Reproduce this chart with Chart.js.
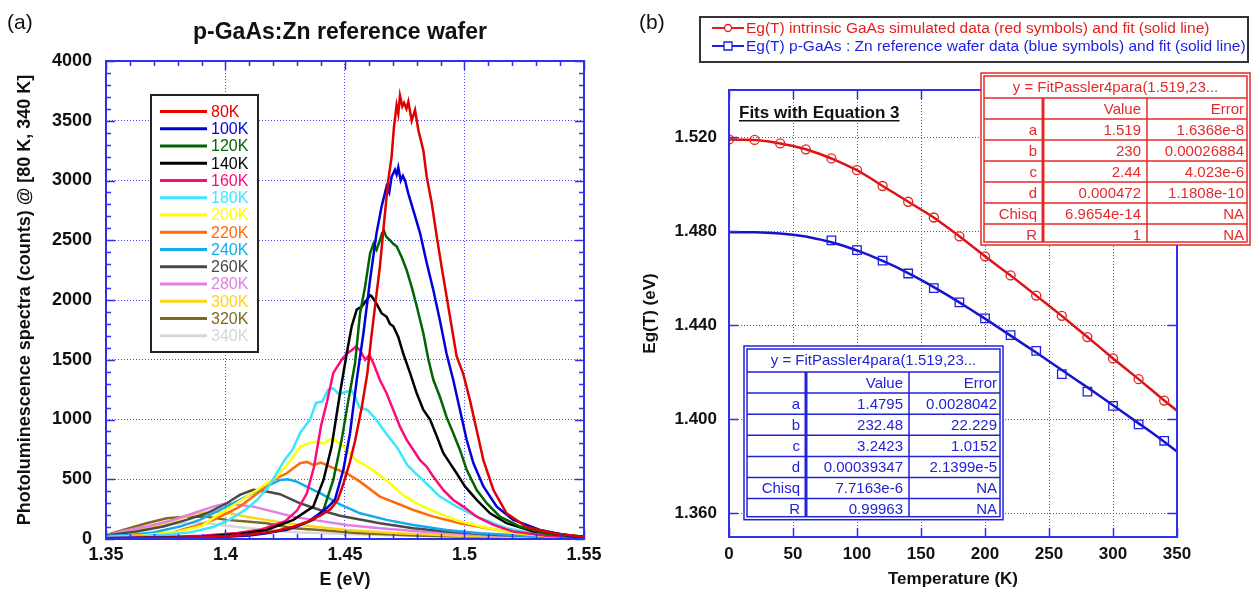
<!DOCTYPE html>
<html>
<head>
<meta charset="utf-8">
<script src="https://cdn.jsdelivr.net/npm/chart.js@4.4.1/dist/chart.umd.min.js"></script>
<style>
  body { margin: 0; background: #fff; }
  #wrap { position: relative; width: 1252px; height: 591px; }
  canvas { position: absolute; top: 0; }
  #plA { left: 0; }
  #plB { left: 620px; }
</style>
</head>
<body>
<div id="wrap">
  <canvas id="plA" width="620" height="591"></canvas>
  <canvas id="plB" width="632" height="591"></canvas>
</div>
<script>
const FONT = '"Liberation Sans", Arial, sans-serif'
const GRID_BLUE = '#4646ff'
const FRAME_BLUE = '#2f2ff0'

// ---- panel (a): PL spectra ----
const tempLabels = ['80K', '100K', '120K', '140K', '160K', '180K', '200K', '220K', '240K', '260K', '280K', '300K', '320K', '340K']
const tempColors = ['#e00000', '#0000dd', '#006400', '#000000', '#ff0a7a', '#3ce6ff', '#ffff00',
  '#ff6a0a', '#12acee', '#4a4a4a', '#e47de4', '#ffd21a', '#7d6a1e', '#d6d6d6']

// [E (eV), counts]
const pl80K = [[1.35,5],[1.37,8],[1.39,15],[1.40,22],[1.41,38],[1.42,62],[1.428,100],[1.435,150],[1.440,200],[1.444,250],[1.447,330],[1.4493,460],[1.452,640],[1.4542,820],[1.457,1100],[1.4593,1380],[1.4612,1720],[1.4632,2050],[1.4646,2280],[1.4663,2640],[1.4681,3000],[1.4695,3200],[1.4705,3450],[1.4716,3630],[1.4723,3560],[1.473,3710],[1.474,3620],[1.4747,3650],[1.4757,3600],[1.4765,3660],[1.4779,3500],[1.4793,3590],[1.4807,3420],[1.4828,3250],[1.4842,3030],[1.4863,2810],[1.4884,2530],[1.4904,2280],[1.4925,2030],[1.4946,1780],[1.4967,1530],[1.4995,1380],[1.5023,1160],[1.5051,910],[1.5079,660],[1.5121,410],[1.5176,215],[1.526,100],[1.5372,48],[1.5483,20],[1.55,15]]
const pl100K = [[1.35,5],[1.37,8],[1.39,12],[1.40,18],[1.41,30],[1.4172,48],[1.425,80],[1.4298,104],[1.435,150],[1.4395,215],[1.443,270],[1.4458,330],[1.4493,578],[1.4521,885],[1.4549,1330],[1.4577,1720],[1.4605,2170],[1.4632,2560],[1.4653,2780],[1.4674,2950],[1.4685,2900],[1.4695,3030],[1.4709,3090],[1.4716,3050],[1.4723,3110],[1.4733,3000],[1.4742,3040],[1.4751,3000],[1.4765,2890],[1.4786,2750],[1.4814,2560],[1.4842,2310],[1.487,2080],[1.4897,1830],[1.4925,1550],[1.4953,1330],[1.4981,1080],[1.5009,830],[1.5037,635],[1.5079,440],[1.5135,270],[1.5204,160],[1.5316,76],[1.5441,26],[1.55,18]]
const pl120K = [[1.35,5],[1.37,9],[1.39,15],[1.40,22],[1.41,35],[1.4256,76],[1.4367,160],[1.441,243],[1.4451,494],[1.4486,830],[1.4514,1160],[1.4542,1470],[1.4563,1890],[1.4584,2110],[1.4605,2390],[1.4619,2470],[1.4632,2420],[1.4646,2500],[1.4655,2560],[1.4663,2580],[1.4672,2530],[1.4688,2500],[1.4702,2470],[1.4716,2450],[1.4737,2360],[1.4758,2250],[1.4779,2110],[1.48,1950],[1.4828,1720],[1.4849,1500],[1.487,1330],[1.4897,1190],[1.4925,1020],[1.4953,885],[1.4981,745],[1.5009,580],[1.5051,410],[1.5093,300],[1.5148,187],[1.5232,104],[1.5344,42],[1.55,12]]
const pl140K = [[1.35,6],[1.37,10],[1.39,18],[1.406,42],[1.4172,76],[1.4284,160],[1.4367,271],[1.441,494],[1.4444,773],[1.4479,1220],[1.4507,1550],[1.4528,1780],[1.4549,1920],[1.457,1945],[1.4591,2000],[1.4605,2040],[1.4612,2030],[1.4632,1970],[1.4653,1890],[1.4674,1860],[1.4688,1800],[1.4702,1780],[1.4723,1690],[1.4744,1550],[1.4772,1390],[1.48,1220],[1.4828,1080],[1.4856,1000],[1.4884,860],[1.4911,720],[1.4939,635],[1.4967,550],[1.5002,440],[1.5051,327],[1.5107,215],[1.5176,132],[1.5288,62],[1.55,18]]
const pl160K = [[1.35,8],[1.37,14],[1.39,28],[1.405,50],[1.415,80],[1.425,150],[1.430,240],[1.434,380],[1.437,600],[1.440,950],[1.4425,1150],[1.4451,1390],[1.4486,1500],[1.4507,1550],[1.4528,1580],[1.4546,1610],[1.4563,1580],[1.4584,1500],[1.4602,1540],[1.4619,1470],[1.4646,1330],[1.4674,1220],[1.4702,1080],[1.473,940],[1.4758,830],[1.4786,745],[1.4814,660],[1.4842,605],[1.487,520],[1.4911,410],[1.4953,327],[1.4995,271],[1.5051,187],[1.5121,118],[1.5204,62],[1.535,25],[1.55,10]]
const pl180K = [[1.35,15],[1.365,25],[1.375,38],[1.385,55],[1.3948,100],[1.4015,160],[1.4082,243],[1.4132,326],[1.4181,440],[1.4214,550],[1.4247,660],[1.428,745],[1.4313,890],[1.4354,1000],[1.4379,1140],[1.4405,1150],[1.4429,1250],[1.4451,1260],[1.4475,1210],[1.45,1230],[1.4528,1240],[1.4545,1180],[1.456,1100],[1.4594,1080],[1.463,1000],[1.4677,870],[1.472,760],[1.476,620],[1.48,540],[1.4843,460],[1.4897,355],[1.4967,271],[1.5065,174],[1.5176,90],[1.53,40],[1.55,12]]
const pl200K = [[1.35,15],[1.365,30],[1.38,60],[1.39,110],[1.3981,217],[1.4048,301],[1.4132,410],[1.4214,521],[1.4264,636],[1.4313,772],[1.4345,800],[1.4379,814],[1.441,800],[1.4446,845],[1.4458,829],[1.4495,772],[1.4545,662],[1.4615,580],[1.468,480],[1.475,356],[1.4826,270],[1.496,160],[1.5074,100],[1.5206,50],[1.537,19],[1.55,10]]
const pl220K = [[1.35,18],[1.36,25],[1.3768,48],[1.3865,104],[1.3949,160],[1.4005,215],[1.406,271],[1.4116,355],[1.4172,438],[1.42,494],[1.4256,550],[1.4312,634],[1.434,645],[1.4367,620],[1.44,640],[1.4437,606],[1.4507,550],[1.4563,480],[1.4646,355],[1.4716,299],[1.4786,243],[1.487,187],[1.4981,132],[1.5093,90],[1.5232,48],[1.54,20],[1.55,12]]
const pl240K = [[1.35,25],[1.36,34],[1.3698,54],[1.3809,104],[1.3893,160],[1.3977,243],[1.406,327],[1.4144,411],[1.4228,494],[1.426,500],[1.4298,480],[1.4367,411],[1.44,380],[1.4479,290],[1.4563,215],[1.4674,160],[1.4786,118],[1.4925,76],[1.5065,48],[1.5274,26],[1.55,12]]
const pl260K = [[1.35,30],[1.3628,62],[1.374,104],[1.3837,160],[1.3921,215],[1.4005,299],[1.406,369],[1.4116,411],[1.4172,397],[1.4228,375],[1.4312,299],[1.4395,243],[1.4479,195],[1.4646,132],[1.4786,90],[1.4925,62],[1.5135,34],[1.55,12]]
const pl280K = [[1.35,25],[1.3558,62],[1.367,104],[1.3782,160],[1.3865,215],[1.3949,271],[1.4005,299],[1.406,285],[1.4116,271],[1.42,229],[1.4284,187],[1.4367,160],[1.4507,118],[1.4646,90],[1.4814,62],[1.5065,34],[1.55,10]]
const pl300K = [[1.35,34],[1.36,62],[1.3698,104],[1.3795,160],[1.3879,215],[1.3949,229],[1.4019,215],[1.4088,187],[1.4172,160],[1.4256,132],[1.4367,104],[1.4507,76],[1.47,50],[1.50,25],[1.55,8]]
const pl320K = [[1.35,34],[1.3572,76],[1.367,132],[1.3754,174],[1.3837,187],[1.3921,187],[1.4005,160],[1.4088,146],[1.4172,132],[1.4284,90],[1.4395,76],[1.455,50],[1.48,30],[1.52,12],[1.55,6]]
const pl340K = [[1.35,30],[1.36,62],[1.3698,104],[1.3809,132],[1.3921,132],[1.4033,104],[1.4172,76],[1.4312,54],[1.4507,42],[1.48,25],[1.52,10],[1.55,5]]
const spectra = [pl80K, pl100K, pl120K, pl140K, pl160K, pl180K, pl200K, pl220K, pl240K, pl260K, pl280K, pl300K, pl320K, pl340K]

const eTicks = [1.35, 1.4, 1.45, 1.5, 1.55]
const eTickLabels = ['1.35', '1.4', '1.45', '1.5', '1.55']
const eMinor = [1.36,1.37,1.38,1.39,1.41,1.42,1.43,1.44,1.46,1.47,1.48,1.49,1.51,1.52,1.53,1.54]
const countTicks = [0, 500, 1000, 1500, 2000, 2500, 3000, 3500, 4000]
const countMinor = [100,200,300,400,600,700,800,900,1100,1200,1300,1400,1600,1700,1800,1900,
  2100,2200,2300,2400,2600,2700,2800,2900,3100,3200,3300,3400,3600,3700,3800,3900]

// ---- panel (b): Eg(T) ----
const tRed = [0, 20, 40, 60, 80, 100, 120, 140, 160, 180, 200, 220, 240, 260, 280, 300, 320, 340]
const egRed = [1.5190, 1.5188, 1.5173, 1.5148, 1.5109, 1.5059, 1.4992, 1.4925, 1.4858, 1.4778, 1.4693, 1.4612, 1.4526, 1.4440, 1.4350, 1.4259, 1.4171, 1.4080]
const tBlue = [80, 100, 120, 140, 160, 180, 200, 220, 240, 260, 280, 300, 320, 340]
const egBlue = [1.4761, 1.4719, 1.4675, 1.4620, 1.4558, 1.4497, 1.4429, 1.4358, 1.4291, 1.4192, 1.4118, 1.4057, 1.3979, 1.3909]
const tFit = [0,10,20,30,40,50,60,70,80,90,100,110,120,130,140,150,160,170,180,190,200,210,220,230,240,250,260,270,280,290,300,310,320,330,340,350]
const egFitRed = [1.5190,1.5189,1.5188,1.5182,1.5173,1.5162,1.5148,1.5130,1.5109,1.5085,1.5059,1.5027,1.4992,1.4959,1.4925,1.4892,1.4858,1.4819,1.4778,1.4736,1.4693,1.4652,1.4612,1.4569,1.4526,1.4483,1.4440,1.4395,1.4350,1.4305,1.4259,1.4215,1.4171,1.4126,1.4080,1.4037]
const egFitBlue = [1.4795,1.4795,1.4795,1.4793,1.4790,1.4785,1.4777,1.4766,1.4753,1.4737,1.4718,1.4697,1.4674,1.4649,1.4622,1.4593,1.4562,1.4530,1.4497,1.4463,1.4428,1.4392,1.4356,1.4320,1.4284,1.4247,1.4210,1.4173,1.4136,1.4098,1.4060,1.4022,1.3983,1.3945,1.3905,1.3863]

const tTicks = [0, 50, 100, 150, 200, 250, 300, 350]
const egTicks = [1.36, 1.40, 1.44, 1.48, 1.52]
const egTickLabels = ['1.360', '1.400', '1.440', '1.480', '1.520']

const fitHeader = 'y = FitPassler4para(1.519,23...'
const fitRowNames = ['', 'a', 'b', 'c', 'd', 'Chisq', 'R']
const redFitValues = ['Value', '1.519', '230', '2.44', '0.000472', '6.9654e-14', '1']
const redFitErrors = ['Error', '1.6368e-8', '0.00026884', '4.023e-6', '1.1808e-10', 'NA', 'NA']
const blueFitValues = ['Value', '1.4795', '232.48', '3.2423', '0.00039347', '7.7163e-6', '0.99963']
const blueFitErrors = ['Error', '0.0028042', '22.229', '1.0152', '2.1399e-5', 'NA', 'NA']
const legendB = [
  { text: 'Eg(T) intrinsic GaAs simulated data (red symbols) and fit (solid line)', color: '#e41e1e', marker: 'circle' },
  { text: 'Eg(T) p-GaAs : Zn reference wafer data (blue symbols) and fit (solid line)', color: '#1e1ee0', marker: 'rect' },
]

// inward ticks + solid frame around the plot area
function drawFrame(chart, xMajor, xMinor, yMajor, yMinor) {
  const { ctx, chartArea: a, scales: { x, y } } = chart
  ctx.save()
  ctx.strokeStyle = FRAME_BLUE
  ctx.lineWidth = 1.5
  ctx.beginPath()
  const tick = (vals, len, horiz) => vals.forEach(v => {
    if (horiz) {
      const px = Math.round(x.getPixelForValue(v)) + 0.5
      ctx.moveTo(px, a.bottom); ctx.lineTo(px, a.bottom - len)
      ctx.moveTo(px, a.top); ctx.lineTo(px, a.top + len)
    } else {
      const py = Math.round(y.getPixelForValue(v)) + 0.5
      ctx.moveTo(a.left, py); ctx.lineTo(a.left + len, py)
      ctx.moveTo(a.right, py); ctx.lineTo(a.right - len, py)
    }
  })
  tick(xMajor, 9, true); tick(xMinor, 5, true)
  tick(yMajor, 9, false); tick(yMinor, 5, false)
  ctx.stroke()
  ctx.lineWidth = 2
  ctx.strokeRect(a.left, a.top, a.right - a.left, a.bottom - a.top)
  ctx.restore()
}

const panelA = {
  id: 'panelA',
  afterDatasetsDraw(chart) {
    drawFrame(chart, eTicks, eMinor, countTicks, countMinor)
  },
  afterDraw(chart) {
    const ctx = chart.ctx
    ctx.save()
    ctx.fillStyle = '#111'
    ctx.textBaseline = 'middle'
    ctx.font = '21px ' + FONT
    ctx.fillText('(a)', 7, 23)
    ctx.font = 'bold 23px ' + FONT
    ctx.textAlign = 'center'
    ctx.fillText('p-GaAs:Zn reference wafer', 340, 33)

    // legend box
    ctx.fillStyle = '#fff'
    ctx.fillRect(151, 95, 107, 257)
    ctx.strokeStyle = '#222'
    ctx.lineWidth = 2
    ctx.strokeRect(151, 95, 107, 257)
    ctx.textAlign = 'left'
    ctx.font = '16px ' + FONT
    chart.data.datasets.forEach((ds, i) => {
      const yy = 111.5 + i * 17.25
      ctx.strokeStyle = ds.borderColor
      ctx.lineWidth = 3
      ctx.beginPath()
      ctx.moveTo(160, yy); ctx.lineTo(207, yy)
      ctx.stroke()
      ctx.fillStyle = ds.borderColor
      ctx.fillText(ds.label, 211, yy + 1)
    })
    ctx.restore()
  }
}

new Chart(document.getElementById('plA'), {
  type: 'line',
  plugins: [panelA],
  data: {
    datasets: spectra.map((d, i) => ({
      label: tempLabels[i],
      data: d,
      borderColor: tempColors[i],
      borderWidth: 2.5,
      pointRadius: 0,
      tension: 0,
      fill: false,
    }))
  },
  options: {
    responsive: false,
    animation: false,
    events: [],
    layout: { padding: { left: 0, right: 36, top: 61, bottom: 0 } },
    scales: {
      x: {
        type: 'linear', min: 1.35, max: 1.55,
        afterBuildTicks: s => { s.ticks = eTicks.map(v => ({ value: v })) },
        afterFit: s => { s.height = 52 },
        grid: { color: GRID_BLUE, lineWidth: 1, drawTicks: false },
        border: { display: false, dash: [1, 2] },
        ticks: {
          color: '#111', padding: 5, maxRotation: 0, autoSkip: false,
          font: { family: FONT, size: 18, weight: 'bold' },
          callback: (v, i) => eTickLabels[i]
        },
        title: { display: true, text: 'E (eV)', color: '#111', padding: { top: 0, bottom: 0 },
          font: { family: FONT, size: 18, weight: 'bold' } }
      },
      y: {
        type: 'linear', min: 0, max: 4000,
        afterBuildTicks: s => { s.ticks = countTicks.map(v => ({ value: v })) },
        afterFit: s => { s.width = 106 },
        grid: { color: GRID_BLUE, lineWidth: 1, drawTicks: false },
        border: { display: false, dash: [1, 2] },
        ticks: {
          color: '#111', padding: 14, autoSkip: false,
          font: { family: FONT, size: 18, weight: 'bold' },
          callback: v => String(v)
        },
        title: { display: true, text: 'Photoluminescence spectra (counts) @ [80 K, 340 K]', color: '#111',
          padding: { top: 14, bottom: 0 }, font: { family: FONT, size: 18, weight: 'bold' } }
      }
    },
    plugins: { legend: { display: false }, tooltip: { enabled: false } }
  }
})

function drawTable(ctx, x0, y0, colW, headH, rowH, color, values, errors) {
  const w = colW[0] + colW[1] + colW[2]
  const h = headH + rowH * fitRowNames.length
  ctx.save()
  ctx.fillStyle = '#fff'
  ctx.fillRect(x0, y0, w, h)
  ctx.strokeStyle = color
  ctx.lineWidth = 1.5
  ctx.strokeRect(x0, y0, w, h)
  ctx.strokeRect(x0 + 3, y0 + 3, w - 6, h - 6)
  ctx.beginPath()
  for (let r = 0; r < fitRowNames.length; r++) {
    const yy = y0 + headH + r * rowH
    ctx.moveTo(x0 + 3, yy); ctx.lineTo(x0 + w - 3, yy)
  }
  const c2 = x0 + colW[0] + colW[1]
  ctx.moveTo(c2, y0 + headH); ctx.lineTo(c2, y0 + h - 3)
  ctx.stroke()
  ctx.lineWidth = 3
  ctx.beginPath()
  ctx.moveTo(x0 + colW[0], y0 + headH); ctx.lineTo(x0 + colW[0], y0 + h - 3)
  ctx.stroke()

  ctx.fillStyle = color
  ctx.font = '15px ' + FONT
  ctx.textBaseline = 'middle'
  ctx.textAlign = 'center'
  ctx.fillText(fitHeader, x0 + w / 2, y0 + headH / 2 + 2)
  ctx.textAlign = 'right'
  fitRowNames.forEach((name, r) => {
    const yy = y0 + headH + r * rowH + rowH / 2 + 1
    ctx.fillText(name, x0 + colW[0] - 6, yy)
    ctx.fillText(values[r], c2 - 6, yy)
    ctx.fillText(errors[r], x0 + w - 6, yy)
  })
  ctx.restore()
}

const panelB = {
  id: 'panelB',
  afterDatasetsDraw(chart) {
    drawFrame(chart, tTicks, [], egTicks, [])
  },
  afterDraw(chart) {
    const ctx = chart.ctx
    ctx.save()
    ctx.fillStyle = '#111'
    ctx.textBaseline = 'middle'
    ctx.font = '21px ' + FONT
    ctx.fillText('(b)', 19, 23)

    // "Fits with Equation 3"
    ctx.font = 'bold 17px ' + FONT
    ctx.textBaseline = 'alphabetic'
    const label = 'Fits with Equation 3'
    ctx.fillText(label, 119, 118)
    const lw = ctx.measureText(label).width
    ctx.fillRect(119, 120, lw, 1.5)

    drawTable(ctx, 361, 73, [62, 104, 103], 25, 21, '#e42a2a', redFitValues, redFitErrors)
    drawTable(ctx, 124, 346, [62, 103, 94], 26, 21.1, '#2222d8', blueFitValues, blueFitErrors)

    // top legend
    ctx.fillStyle = '#fff'
    ctx.fillRect(80, 17, 548, 45)
    ctx.strokeStyle = '#333'
    ctx.lineWidth = 2
    ctx.strokeRect(80, 17, 548, 45)
    ctx.font = '15.5px ' + FONT
    ctx.textBaseline = 'middle'
    legendB.forEach((item, i) => {
      const yy = 28 + i * 18
      ctx.strokeStyle = item.color
      ctx.lineWidth = 2
      ctx.beginPath()
      ctx.moveTo(92, yy); ctx.lineTo(124, yy)
      ctx.stroke()
      ctx.lineWidth = 1.3
      ctx.fillStyle = '#fff'
      ctx.beginPath()
      if (item.marker === 'circle') ctx.arc(108, yy, 3.5, 0, Math.PI * 2)
      else ctx.rect(104, yy - 4, 8, 8)
      ctx.fill(); ctx.stroke()
      ctx.fillStyle = item.color
      ctx.fillText(item.text, 126, yy + 1)
    })
    ctx.restore()
  }
}

new Chart(document.getElementById('plB'), {
  type: 'scatter',
  plugins: [panelB],
  data: {
    datasets: [
      { label: 'red data', data: tRed.map((t, i) => ({ x: t, y: egRed[i] })),
        pointStyle: 'circle', pointRadius: 4.5, pointBorderWidth: 1.3,
        borderColor: '#e42020', backgroundColor: 'rgba(0,0,0,0)' },
      { label: 'blue data', data: tBlue.map((t, i) => ({ x: t, y: egBlue[i] })),
        pointStyle: 'rect', pointRadius: 6, pointBorderWidth: 1.3,
        borderColor: '#1e1ee6', backgroundColor: 'rgba(0,0,0,0)' },
      { label: 'red fit', data: tFit.map((t, i) => ({ x: t, y: egFitRed[i] })),
        showLine: true, pointRadius: 0, borderWidth: 2.5, borderColor: '#dc1414' },
      { label: 'blue fit', data: tFit.map((t, i) => ({ x: t, y: egFitBlue[i] })),
        showLine: true, pointRadius: 0, borderWidth: 2.5, borderColor: '#1414cc' },
    ]
  },
  options: {
    responsive: false,
    animation: false,
    events: [],
    layout: { padding: { left: 0, right: 75, top: 90, bottom: 0 } },
    scales: {
      x: {
        type: 'linear', min: 0, max: 350,
        afterBuildTicks: s => { s.ticks = tTicks.map(v => ({ value: v })) },
        afterFit: s => { s.height = 54 },
        grid: { color: GRID_BLUE, lineWidth: 1, drawTicks: false },
        border: { display: false, dash: [1, 2] },
        ticks: {
          color: '#111', padding: 7, maxRotation: 0, autoSkip: false,
          font: { family: FONT, size: 17, weight: 'bold' }
        },
        title: { display: true, text: 'Temperature (K)', color: '#111', padding: { top: 0, bottom: 1 },
          font: { family: FONT, size: 17, weight: 'bold' } }
      },
      y: {
        type: 'linear', min: 1.35, max: 1.54,
        afterBuildTicks: s => { s.ticks = egTicks.map(v => ({ value: v })) },
        afterFit: s => { s.width = 109 },
        grid: { color: GRID_BLUE, lineWidth: 1, drawTicks: false },
        border: { display: false, dash: [1, 2] },
        ticks: {
          color: '#111', padding: 12, autoSkip: false,
          font: { family: FONT, size: 17, weight: 'bold' },
          callback: (v, i) => egTickLabels[i]
        },
        title: { display: true, text: 'Eg(T) (eV)', color: '#111', padding: { top: 20, bottom: 0 },
          font: { family: FONT, size: 17, weight: 'bold' } }
      }
    },
    plugins: { legend: { display: false }, tooltip: { enabled: false } }
  }
})
</script>
</body>
</html>
